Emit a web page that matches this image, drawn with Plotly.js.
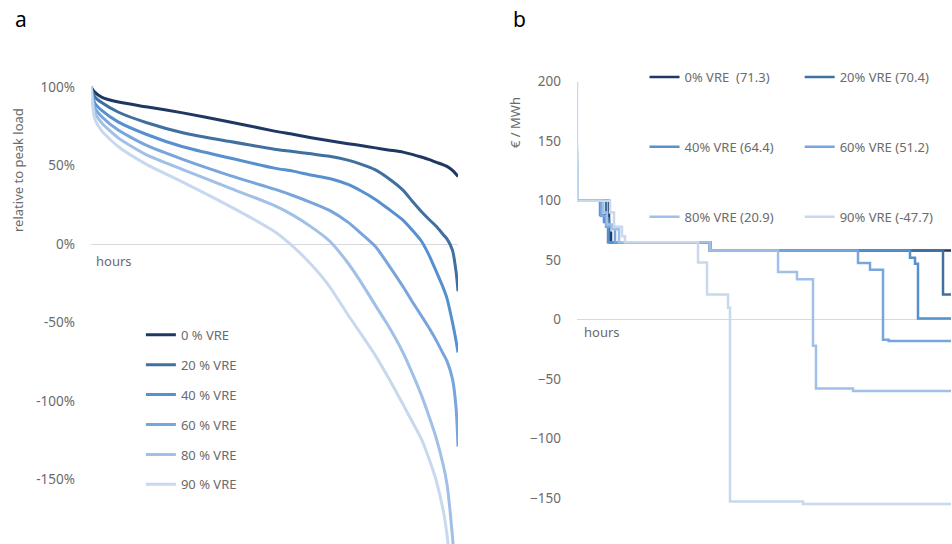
<!DOCTYPE html>
<html>
<head>
<meta charset="utf-8">
<script src="https://cdn.plot.ly/plotly-3.0.1.min.js"></script>
<style>html,body{margin:0;padding:0;background:#fff;}#chart{width:952px;height:544px;}</style>
</head>
<body>
<div id="chart"></div>
<script>
// ---------- Panel a: residual load duration curves (% of peak load) ----------
const loadHours = [0, 88, 263, 657, 1314, 2190, 3285, 4380, 4818, 5256, 5694, 6132, 6439, 6789, 7096, 7446, 7665, 7884, 8059, 8234, 8410, 8497, 8629, 8716, 8760];
const load0  = [100, 96.8, 93.5, 90.5, 87.5, 83.6, 78, 72, 70, 67.8, 65.8, 64, 62.8, 61.3, 60, 58.6, 57.2, 55.5, 54, 52.2, 50.5, 49.5, 47, 44.5, 43];
const load20 = [100, 94, 90, 84, 77.5, 71, 65.5, 60.5, 59, 57.5, 56, 53.5, 51, 47.3, 42, 34.4, 27.5, 20.8, 16, 11.5, 6, 3.3, -4, -18, -30];
const load40 = [100, 90, 85, 77.7, 70, 62, 55, 48.4, 46.5, 44, 41.8, 38, 34, 28.5, 22.5, 15.3, 9, 2, -6.5, -17, -28, -34.5, -50, -62, -69];
const load60 = [100, 87, 81, 72.5, 63, 54, 44, 35, 31, 26.5, 21.5, 14, 7, -1.5, -13, -27, -36.5, -45.5, -53, -61, -70, -74.5, -86, -105, -129];
const load80 = [100, 84, 77, 67.5, 57, 47.5, 36, 24.5, 18.5, 11, 2, -12, -24, -39, -52, -69, -82, -96, -109, -123, -141, -153, -187, -220, -240];
const load90 = [100, 80, 72, 62, 51, 39.5, 24.5, 8, -1.5, -13, -27, -45, -57, -71, -85, -102, -113, -124, -136, -150, -170, -185, -215, -240, -260];
const loadNames = ["0 % VRE", "20 % VRE", "40 % VRE", "60 % VRE", "80 % VRE", "90 % VRE"];
const loadTicks = [100, 50, 0, -50, -100, -150];
const loadTickText = ["100%", "50%", "0%", "-50%", "-100%", "-150%"];

// ---------- Panel b: price duration curves (€/MWh), step breakpoints ----------
const priceHours0  = [0, 749, 796, 3115, 8760];
const price0       = [100, 73, 65, 58, 58];
const priceHours20 = [0, 679, 749, 3115, 8572, 8760];
const price20      = [100, 85, 65, 58, 21, 21];
const priceHours40 = [0, 0, 539, 632, 726, 3115, 7799, 7916, 7986, 8760];
const price40      = [133, 100, 88, 82, 65, 58, 52, 47, 1, 1];
const priceHours60 = [0, 0, 562, 679, 890, 3115, 6581, 6862, 7167, 7300, 8760];
const price60      = [140, 100, 87, 78, 65, 58, 47.5, 42, -17, -18, -18];
const priceHours80 = [0, 0, 609, 703, 820, 984, 3115, 4708, 5152, 5527, 5597, 6464, 8760];
const price80      = [145, 100, 90, 80, 76, 65, 58, 40, 34, -22, -58, -60, -60];
const priceHours90 = [0, 0, 773, 867, 1054, 1124, 2834, 3045, 3537, 3583, 5293, 8760];
const price90      = [200, 100, 90, 78, 70, 65, 48, 21, 10, -153, -155, -155];
const priceNames = ["0% VRE\u00a0\u00a0(71.3)", "20% VRE\u00a0(70.4)", "40% VRE\u00a0(64.4)", "60% VRE\u00a0(51.2)", "80% VRE\u00a0(20.9)", "90% VRE\u00a0(-47.7)"];
const priceTicks = [200, 150, 100, 50, 0, -50, -100, -150];

const colors = ["#1f3763", "#40709f", "#5690cf", "#78a6dc", "#a0c0e8", "#c8d8ef"];

const loadSeries = [load0, load20, load40, load60, load80, load90];
const priceX = [priceHours0, priceHours20, priceHours40, priceHours60, priceHours80, priceHours90];
const priceY = [price0, price20, price40, price60, price80, price90];
const priceLegends = ["legend2", "legend3", "legend2", "legend3", "legend2", "legend3"];

const traces = [];
loadSeries.forEach((vals, i) => {
  traces.push({
    type: "scatter", mode: "lines", x: loadHours, y: vals,
    name: loadNames[i], legend: "legend", legendgroup: "a" + i,
    line: {color: colors[i], width: 3, shape: "spline", smoothing: 0.6},
    xaxis: "x", yaxis: "y", hoverinfo: "skip"
  });
});
priceX.forEach((xs, i) => {
  traces.push({
    type: "scatter", mode: "lines", x: xs, y: priceY[i],
    name: priceNames[i], legend: priceLegends[i], legendgroup: "b" + i,
    line: {color: colors[i], width: 2.5, shape: "hv"},
    xaxis: "x2", yaxis: "y2", hoverinfo: "skip"
  });
});

const fam = "Noto Sans, Open Sans, sans-serif";
const tickFont = {family: fam, size: 13.5, color: "#6b6b6b"};
const legFont = {family: fam, size: 13, color: "#6b6b6b"};

const colLegend = (x) => ({
  orientation: "v", x: x, xanchor: "left", y: 1 - 62 / 544, yanchor: "top",
  font: legFont, tracegroupgap: 50, bgcolor: "rgba(0,0,0,0)", itemwidth: 30
});

const layout = {
  width: 952, height: 544,
  margin: {l: 0, r: 0, t: 0, b: 0, autoexpand: false},
  paper_bgcolor: "#ffffff", plot_bgcolor: "#ffffff",
  showlegend: true,
  xaxis: {domain: [0.0956, 0.4811], range: [0, 8760], showgrid: false, zeroline: false,
          showticklabels: false, showline: false, ticks: ""},
  yaxis: {domain: [0, 0.871], range: [-191, 110.8], tickvals: loadTicks, ticktext: loadTickText,
          showgrid: false, zeroline: true, zerolinecolor: "#d9d9d9", zerolinewidth: 1,
          showline: false, ticks: "", tickfont: tickFont, ticklabelstandoff: 15},
  xaxis2: {domain: [0.6061, 0.999], range: [0, 8760], showgrid: false, zeroline: false,
           showticklabels: false, showline: false, ticks: "", anchor: "y2"},
  yaxis2: {domain: [0, 0.871], range: [-188.7, 209.7], tickvals: priceTicks,
           showgrid: false, zeroline: true, zerolinecolor: "#d9d9d9", zerolinewidth: 1,
           showline: false, ticks: "", tickfont: tickFont, ticklabelstandoff: 15, anchor: "x2"},
  legend: {x: 0.148, xanchor: "left", y: 0.412, yanchor: "top", font: legFont,
           tracegroupgap: 10, bgcolor: "rgba(0,0,0,0)", itemwidth: 30},
  legend2: colLegend(0.677),
  legend3: colLegend(0.84),
  annotations: [
    {text: "a", xref: "paper", yref: "paper", x: 13 / 952, y: 1 - 3 / 544, xanchor: "left", yanchor: "top",
     showarrow: false, font: {family: fam, size: 21, color: "#000"}},
    {text: "b", xref: "paper", yref: "paper", x: 511 / 952, y: 1 - 3 / 544, xanchor: "left", yanchor: "top",
     showarrow: false, font: {family: fam, size: 21, color: "#000"}},
    {text: "relative to peak load", xref: "paper", yref: "paper", x: 18 / 952, y: 1 - 170 / 544,
     xanchor: "center", yanchor: "middle", textangle: -90, showarrow: false, font: legFont},
    {text: "€ / MWh", xref: "paper", yref: "paper", x: 515 / 952, y: 1 - 123 / 544,
     xanchor: "center", yanchor: "middle", textangle: -90, showarrow: false, font: legFont},
    {text: "hours", xref: "paper", yref: "paper", x: 94 / 952, y: 1 - 250 / 544, xanchor: "left", yanchor: "top",
     showarrow: false, font: legFont},
    {text: "hours", xref: "paper", yref: "paper", x: 582 / 952, y: 1 - 321 / 544, xanchor: "left", yanchor: "top",
     showarrow: false, font: legFont}
  ]
};

Plotly.newPlot("chart", traces, layout, {displayModeBar: false, staticPlot: true});
</script>
</body>
</html>
